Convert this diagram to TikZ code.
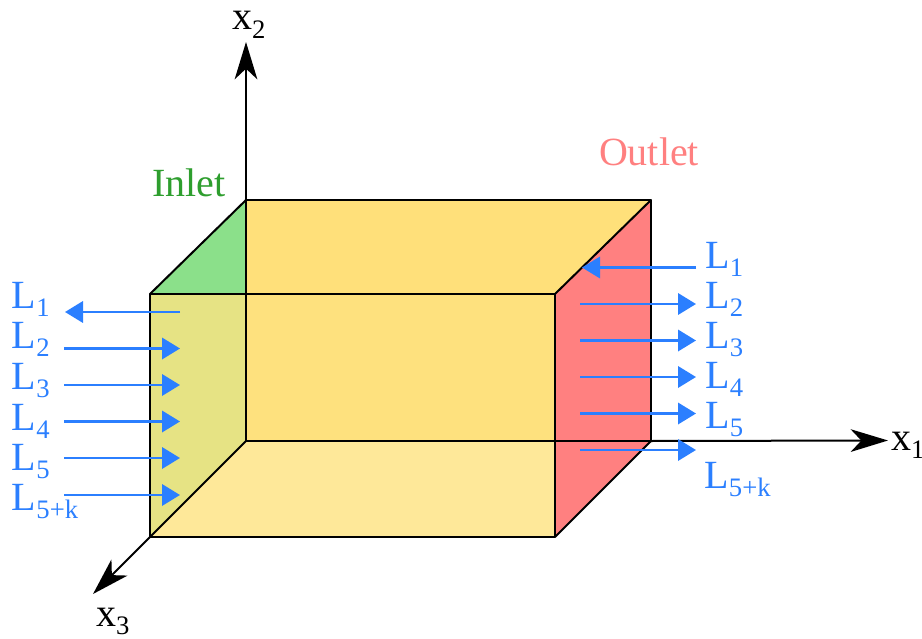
\documentclass[tikz,border=0pt]{standalone}
\usepackage{fontspec}
\setmainfont{Liberation Serif}
\usetikzlibrary{arrows.meta}
\definecolor{topY}{HTML}{FFE07A}
\definecolor{frontY}{HTML}{FEE17E}
\definecolor{botY}{HTML}{FEE899}
\definecolor{leftY}{HTML}{E6E384}
\definecolor{leftG}{HTML}{8BE08A}
\definecolor{rightR}{HTML}{FF8080}
\definecolor{flow}{HTML}{2B7FFF}
\definecolor{inletC}{HTML}{2E9E2E}
\newcommand{\lsub}[2]{{\fontsize{30}{30}\selectfont #1\raisebox{-6.2pt}{\fontsize{20}{20}\selectfont #2}}}
\tikzset{
  x=0.75pt,y=-0.75pt,
  lab/.style={inner sep=0pt,outer sep=0pt,anchor=base west},
  flowlab/.style={lab,text=flow},
  edgeThick/.style={draw=black,line width=2pt,line cap=round,line join=round},
  edgeThin/.style={draw=black,line width=1.5pt,line cap=round,line join=round},
  axis/.style={draw=black,line width=1.5pt,-{Stealth[length=28pt,width=17pt,inset=8pt]}},
  flowarrow/.style={draw=flow,line width=1.9pt,-{Triangle[length=13.5pt,width=16pt]}}
}
\begin{document}
\begin{tikzpicture}
\useasboundingbox (0,0) rectangle (922,639);
% cube corners
\coordinate (fTL) at (150,294);
\coordinate (fTR) at (555,294);
\coordinate (fBR) at (555,537);
\coordinate (fBL) at (150,537);
\coordinate (bTL) at (246,200);
\coordinate (bTR) at (651,200);
\coordinate (bBR) at (651,441);
\coordinate (bBL) at (246,441);
\coordinate (gC) at (246,294);
% faces
\fill[topY] (bTL) -- (bTR) -- (fTR) -- (gC) -- cycle;
\fill[frontY] (gC) -- (fTR) -- (555,441) -- (bBL) -- cycle;
\fill[botY] (bBL) -- (555,441) -- (fBR) -- (fBL) -- cycle;
\fill[leftG] (fTL) -- (bTL) -- (gC) -- cycle;
\fill[leftY] (fTL) -- (gC) -- (bBL) -- (fBL) -- cycle;
\fill[rightR] (fTR) -- (bTR) -- (bBR) -- (fBR) -- cycle;
% axis ends
\coordinate (x1tip) at (888,440.5);
\coordinate (x2tip) at (246,42);
\coordinate (x3tip) at (93,594);
% edges
\draw[edgeThin] (bTL) -- (gC) -- (bBL) -- (bBR);
\draw[edgeThin] (fTL) -- (bTL);
\draw[edgeThin] (fTR) -- (bTR);
\draw[edgeThin] (fBL) -- (bBL);
\draw[edgeThin] (fBR) -- (bBR);
\draw[edgeThick] (bTL) -- (bTR) -- (bBR);
\draw[edgeThick] (fTL) -- (fTR) -- (fBR) -- (fBL) -- cycle;
% axes
\draw[axis] (bBR) -- (x1tip);
\draw[axis] (bTL) -- (x2tip);
\draw[axis] (fBL) -- (x3tip);
% axis labels
\node[lab] (x1) at (891,450) {\lsub{x}{1}};
\node[lab] (x2) at (232,30) {\lsub{x}{2}};
\node[lab] (x3) at (96,626) {\lsub{x}{3}};
\node[lab,text=inletC] (inlet) at (152,196) {\fontsize{30}{30}\selectfont Inlet};
\node[lab,text=rightR] (outlet) at (599,165) {\fontsize{30}{30}\selectfont Outlet};
% left labels
\node[flowlab] (la) at (12,308) {\lsub{L}{1}};
\node[flowlab] (lb) at (12,348) {\lsub{L}{2}};
\node[flowlab] (lc) at (12,389) {\lsub{L}{3}};
\node[flowlab] (ld) at (12,430) {\lsub{L}{4}};
\node[flowlab] (le) at (12,470) {\lsub{L}{5}};
\node[flowlab] (lf) at (12,510) {\lsub{L}{5+k}};
% right labels
\node[flowlab] (ra) at (705.5,268) {\lsub{L}{1}};
\node[flowlab] (rb) at (705.5,308) {\lsub{L}{2}};
\node[flowlab] (rc) at (705.5,348) {\lsub{L}{3}};
\node[flowlab] (rd) at (705.5,388) {\lsub{L}{4}};
\node[flowlab] (re) at (705.5,428) {\lsub{L}{5}};
\node[flowlab] (rf) at (704.5,488) {\lsub{L}{5+k}};
% left flow arrows
\coordinate (lao) at (65,312);   \coordinate (lai) at (180,312);
\coordinate (lbo) at (64,348.5); \coordinate (lbi) at (180,348.5);
\coordinate (lco) at (64,385);   \coordinate (lci) at (180,385);
\coordinate (ldo) at (64,421.5); \coordinate (ldi) at (180,421.5);
\coordinate (leo) at (64,458);   \coordinate (lei) at (180,458);
\coordinate (lfo) at (64,495);   \coordinate (lfi) at (180,495);
\draw[flowarrow] (lai) -- (lao);
\draw[flowarrow] (lbo) -- (lbi);
\draw[flowarrow] (lco) -- (lci);
\draw[flowarrow] (ldo) -- (ldi);
\draw[flowarrow] (leo) -- (lei);
\draw[flowarrow] (lfo) -- (lfi);
% right flow arrows
\coordinate (rai) at (582,267.5); \coordinate (rao) at (696,267.5);
\coordinate (rbi) at (580,304);   \coordinate (rbo) at (696,304);
\coordinate (rci) at (580,340.5); \coordinate (rco) at (696,340.5);
\coordinate (rdi) at (580,377);   \coordinate (rdo) at (696,377);
\coordinate (rei) at (580,413.5); \coordinate (reo) at (696,413.5);
\coordinate (rfi) at (580,450);   \coordinate (rfo) at (696,450);
\draw[flowarrow] (rao) -- (rai);
\draw[flowarrow] (rbi) -- (rbo);
\draw[flowarrow] (rci) -- (rco);
\draw[flowarrow] (rdi) -- (rdo);
\draw[flowarrow] (rei) -- (reo);
\draw[flowarrow] (rfi) -- (rfo);
\end{tikzpicture}
\end{document}
